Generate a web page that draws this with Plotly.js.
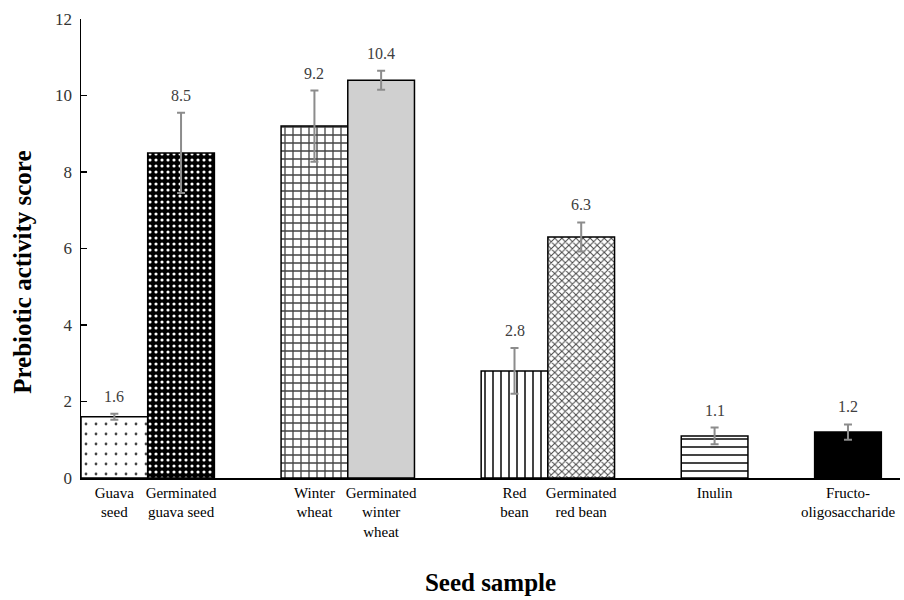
<!DOCTYPE html>
<html>
<head>
<meta charset="utf-8">
<script src="https://cdn.plot.ly/plotly-3.0.1.min.js"></script>
<style>html,body{margin:0;padding:0;background:#fff;}#chart{width:904px;height:600px;}</style>
</head>
<body>
<div id="chart"></div>
<script>
// Data
const categories = ["Guava seed", "Germinated guava seed", "Winter wheat", "Germinated winter wheat", "Red bean", "Germinated red bean", "Inulin", "Fructo-oligosaccharide"];
const tickLabels = ["Guava<br>seed", "Germinated<br>guava seed", "Winter<br>wheat", "Germinated<br>winter<br>wheat", "Red<br>bean", "Germinated<br>red bean", "Inulin", "Fructo-<br>oligosaccharide"];
const scores = [1.6, 8.5, 9.2, 10.4, 2.8, 6.3, 1.1, 1.2];
const errors = [0.08, 1.05, 0.93, 0.25, 0.6, 0.38, 0.22, 0.2];
const valueLabels = ["1.6", "8.5", "9.2", "10.4", "2.8", "6.3", "1.1", "1.2"];

// Axis slot order (blank slots separate the groups, as in the original)
const slotOrder = [categories[0], categories[1], "gap1", categories[2], categories[3], "gap2",
                   categories[4], categories[5], "gap3", categories[6], "gap4", categories[7]];

// Styles
const shapes   = [".", ".", "+", "", "|", "x", "-", ""];
const fgColors = ["#000000", "#ffffff", "#000000", "#d0d0d0", "#000000", "#4a4a4a", "#000000", "#000000"];
const fills    = ["#ffffff", "#000000", "#ffffff", "#d0d0d0", "#ffffff", "#ffffff", "#ffffff", "#000000"];
const pSizes   = [10, 6, 8, 8, 8, 5, 8, 8];
const pSolid   = [0.06, 0.22, 0.3, 0.3, 0.25, 0.35, 0.25, 0.3];

const serif = "Liberation Serif, Times New Roman, serif";

const trace = {
  type: "bar",
  x: categories,
  y: scores,
  width: 1,
  marker: {
    color: fills,
    line: {color: "#000000", width: 1.5},
    pattern: {shape: shapes, fgcolor: fgColors, fgopacity: 1, size: pSizes, solidity: pSolid, fillmode: "overlay"}
  },
  error_y: {type: "data", array: errors, visible: true, color: "#8c8c8c", thickness: 2, width: 4},
  hoverinfo: "x+y"
};

const annotations = categories.map((c, i) => ({
  x: c, y: scores[i] + errors[i], xref: "x", yref: "y",
  text: valueLabels[i], showarrow: false, yanchor: "bottom", yshift: 7,
  font: {family: serif, size: 16, color: "#404040"}
}));

// y-axis title, placed as in the original (slightly below the axis centre)
annotations.push({
  text: "Prebiotic activity score", textangle: -90,
  xref: "paper", yref: "paper", x: 0, xshift: -58, y: 0.447,
  xanchor: "center", yanchor: "middle", showarrow: false,
  font: {family: serif, size: 25, color: "#000", weight: "bold"}
});

const layout = {
  width: 904, height: 600,
  margin: {l: 81, r: 4, t: 19, b: 122},
  paper_bgcolor: "#fff", plot_bgcolor: "#fff",
  showlegend: false,
  bargap: 0,
  xaxis: {
    type: "category",
    categoryorder: "array",
    categoryarray: slotOrder,
    range: [-0.5, 11.78],
    tickmode: "array",
    tickvals: categories,
    ticktext: tickLabels,
    ticks: "", showgrid: false, zeroline: false,
    showline: true, linecolor: "#000", linewidth: 1.5,
    tickfont: {family: serif, size: 15, color: "#000"},
    title: {text: "Seed sample", font: {family: serif, size: 25, color: "#000", weight: "bold"}, standoff: 35}
  },
  yaxis: {
    range: [0, 12], dtick: 2, tick0: 0,
    ticks: "inside", ticklen: 6, tickwidth: 1.2, tickcolor: "#000",
    showgrid: false, zeroline: false,
    showline: true, linecolor: "#000", linewidth: 1.5,
    tickfont: {family: serif, size: 17, color: "#333"},
    ticklabelstandoff: 4
  },
  annotations: annotations
};

Plotly.newPlot("chart", [trace], layout, {staticPlot: true, displayModeBar: false});
</script>
</body>
</html>
